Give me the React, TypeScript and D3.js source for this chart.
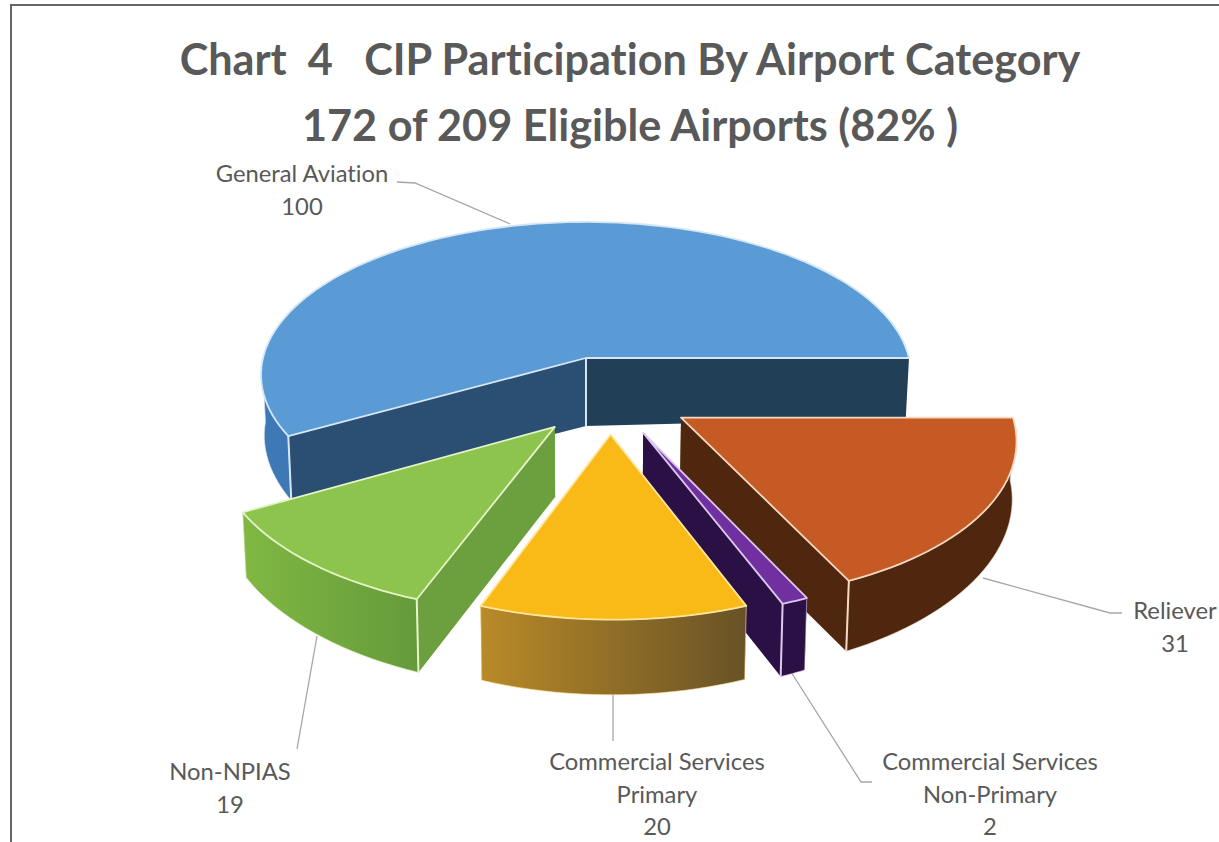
import React from "react";
import * as d3 from "d3";

const categories = ["Reliever", "Commercial Services Non-Primary", "Commercial Services Primary", "Non-NPIAS", "General Aviation"];
const values = [31, 2, 20, 19, 100];
const explodeX = [0.282, 0.168, 0.072, -0.092, 0];
const explodeY = [0.378, 0.47, 0.48, 0.434, 0];
const radiusFactor = [0.985, 0.975, 0.975, 0.99, 1];
const topColors = ["#c55a24", "#7030a0", "#f9b916", "#8cc44e", "#5b9bd5"];
const faceColors = ["#4e270e", "#2b1046", "#7a5a20", "#6c9f3d", "#24445f"];
const wallColors = ["#4e270e", "#2b1046", "url(#goldWall)", "url(#greenWall)", "#3f79b5"];
const edgeColors = ["#f7d8c2", "#dcc8ec", "#ffe6a0", "#e4f4c6", "#d5e7f6"];

const titleLines = ["Chart  4   CIP Participation By Airport Category", "172 of 209 Eligible Airports (82% )"];
const labelLines = [
  ["Reliever", "31"],
  ["Commercial Services", "Non-Primary", "2"],
  ["Commercial Services", "Primary", "20"],
  ["Non-NPIAS", "19"],
  ["General Aviation", "100"],
];
const labelX = [1175, 990, 657, 230, 302];
const labelY = [619, 770, 770, 780, 182];
const leaderLines: [number, number][][] = [
  [[983, 578], [1110, 613], [1122, 613]],
  [[791, 672], [861, 782], [872, 782]],
  [[613, 690], [613, 741]],
  [[317, 636], [297, 749]],
  [[397, 182], [415, 183], [510, 224]],
];

const W = 1219;
const H = 842;
const cx = 586;
const cy = 358;
const persp = 0.11;
const sx = d3.scaleLinear().domain([0, 1]).range([0, 323]);
const sy = d3.scaleLinear().domain([0, 1]).range([0, 151]);
const depthAt = (X: number, Y: number) => 68 + 5 * Y - 8 * X * X;

type P = [number, number];
const project = (X: number, Y: number, bottom: boolean): P => {
  const s = 1 / (1 - persp * Y);
  const xx = cx + sx(X) * s * (bottom ? 0.99 : 1);
  const yy = cy + sy(Y) * s + (bottom ? depthAt(X, Y) : 0);
  return [xx, yy];
};

const pie = d3.pie<number>().sort(null).startAngle(Math.PI / 2).endAngle(Math.PI * 2.5);
const arcs = pie(values);
const line = d3.line<P>();

export default function App() {
  const slices = arcs.map((a, i) => {
    const ox = explodeX[i];
    const oy = explodeY[i];
    const r = radiusFactor[i];
    const n = Math.max(8, Math.ceil(((a.endAngle - a.startAngle) * 180) / Math.PI / 2));
    const angles = d3.range(n + 1).map((k) => a.startAngle + ((a.endAngle - a.startAngle) * k) / n);
    const pts = angles.map((t) => [ox + r * Math.sin(t), oy - r * Math.cos(t)] as P);
    const frontPts = pts.filter((_, k) => -Math.cos(angles[k]) > 1e-6);
    const topArc = pts.map((p) => project(p[0], p[1], false));
    const botArc = pts.map((p) => project(p[0], p[1], true));
    const wallTop = frontPts.map((p) => project(p[0], p[1], false));
    const wallBot = frontPts.map((p) => project(p[0], p[1], true));
    const apexT = project(ox, oy, false);
    const apexB = project(ox, oy, true);
    return {
      i,
      top: line([apexT, ...topArc])! + "Z",
      wall: line([...wallTop, ...wallBot.reverse()])! + "Z",
      faceStart: line([apexT, topArc[0], botArc[0], apexB])! + "Z",
      faceEnd: line([apexT, topArc[n], botArc[n], apexB])! + "Z",
      edgeApex: line([apexT, apexB])!,
      edgeStart: line([topArc[0], botArc[0]])!,
      edgeEnd: line([topArc[n], botArc[n]])!,
    };
  });
  const order = [4, 0, 1, 2, 3];
  const font = "Lato, 'Open Sans', sans-serif";
  return (
    <svg
      width={W}
      height={H}
      viewBox={`0 0 ${W} ${H}`}
      style={{ position: "absolute", left: 0, top: 0, background: "#fff", display: "block", fontVariantLigatures: "none" }}
    >
      <defs>
        <linearGradient id="goldWall" x1="0" x2="1" y1="0" y2="0">
          <stop offset="0" stopColor="#b98a28" />
          <stop offset="1" stopColor="#685226" />
        </linearGradient>
        <linearGradient id="greenWall" x1="0" x2="1" y1="0" y2="0">
          <stop offset="0" stopColor="#80b843" />
          <stop offset="1" stopColor="#659a3b" />
        </linearGradient>
      </defs>
      <path d="M1219,5H11V842" fill="none" stroke="#666" strokeWidth={2} />
      {titleLines.map((t, i) => (
        <text
          key={t}
          x={630}
          y={75 + i * 66}
          textAnchor="middle"
          fontFamily={font}
          fontWeight={700}
          fontSize={43.2}
          fill="#595959"
          style={{ whiteSpace: "pre" }}
        >
          {t}
        </text>
      ))}
      {leaderLines.map((pts, i) => (
        <path key={i} d={line(pts)!} fill="none" stroke="#a6a6a6" strokeWidth={1.3} />
      ))}
      {order.map((idx) => {
        const s = slices[idx];
        const edge = edgeColors[idx];
        return (
          <g key={categories[idx]}>
            <path d={s.faceEnd} fill={idx === 4 ? "#223f58" : faceColors[idx]} />
            <path d={s.faceStart} fill={idx === 4 ? "#2a4f72" : faceColors[idx]} />
            <path d={s.wall} fill={wallColors[idx]} stroke={edge} strokeWidth={0.6} />
            {idx === 4 && <path d={s.edgeApex} stroke={edge} strokeWidth={2} fill="none" />}
            {idx === 4 && <path d={s.edgeStart} stroke={edge} strokeWidth={2} fill="none" />}
            {idx === 0 && <path d={s.edgeEnd} stroke={edge} strokeWidth={2} fill="none" />}
            {idx === 1 && <path d={s.edgeEnd} stroke={edge} strokeWidth={2} fill="none" />}
            {idx === 3 && <path d={s.edgeStart} stroke={edge} strokeWidth={2} fill="none" />}
            <path d={s.top} fill={topColors[idx]} stroke={edge} strokeWidth={1.8} strokeLinejoin="round" />
          </g>
        );
      })}
      {labelLines.map((lines, i) =>
        lines.map((t, j) => (
          <text
            key={i + "-" + j}
            x={labelX[i]}
            y={labelY[i] + j * 32.5}
            textAnchor="middle"
            fontFamily={font}
            fontSize={23.8}
            fill="#595959"
          >
            {t}
          </text>
        ))
      )}
    </svg>
  );
}
